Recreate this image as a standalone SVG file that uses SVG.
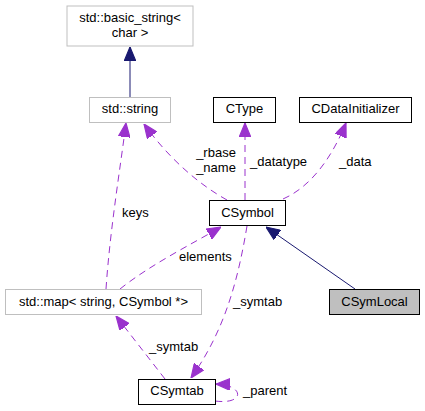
<svg xmlns="http://www.w3.org/2000/svg" width="425" height="411" viewBox="0 0 425 411">
<defs>
<style>
text{font-family:"Liberation Sans",Arial,sans-serif;font-size:13px;fill:#000}
.nt{text-anchor:middle}
.box{fill:#fff;stroke:#000;stroke-width:1}
.gbox{fill:#fff;stroke:#bfbfbf;stroke-width:1}
.dep{fill:none;stroke:#9a32cd;stroke-width:1;stroke-dasharray:7,5;marker-end:url(#pa)}
.inh{fill:none;stroke:#191970;stroke-width:1;marker-end:url(#na)}
</style>
<marker id="pa" markerUnits="userSpaceOnUse" markerWidth="14" markerHeight="12" refX="12" refY="5" orient="auto" viewBox="0 0 12 10"><path d="M0,0 L12,5 L0,10 Z" fill="#9a32cd" stroke="#9a32cd"/></marker>
<marker id="na" markerUnits="userSpaceOnUse" markerWidth="14" markerHeight="12" refX="12" refY="5" orient="auto" viewBox="0 0 12 10"><path d="M0,0 L12,5 L0,10 Z" fill="#191970" stroke="#191970"/></marker>
</defs>
<rect width="425" height="411" fill="#fff"/>
<g id="edges">
<path class="inh" d="M130,97 L130,47"/>
<path class="dep" d="M227,200 C200,185 170,160 144,124"/>
<path class="dep" d="M106,289 C110,230 120,170 126,123"/>
<path class="dep" d="M245,200 L245,123"/>
<path class="dep" d="M283,199 C315,185 335,150 346,123"/>
<path class="dep" d="M120,289 C150,265 190,245 221,227"/>
<path class="inh" d="M355,289 L266,227"/>
<path class="dep" d="M165,379 L116,316"/>
<path class="dep" d="M247,226 C238,280 225,330 191,378"/>
<path class="dep" d="M215,401 C245,405 245,385 216,384"/>
<text x="216" y="157" class="nt">_rbase</text>
<text x="216" y="172" class="nt">_name</text>
<text x="250" y="166">_datatype</text>
<text x="339" y="166">_data</text>
<text x="122" y="217">keys</text>
<text x="179" y="261">elements</text>
<text x="233" y="306">_symtab</text>
<text x="149" y="351">_symtab</text>
<text x="243" y="395">_parent</text>
</g>
<g id="basic_string"><rect class="gbox" x="67" y="6" width="126" height="40"/><text x="130" y="22" class="nt">std::basic_string&lt;</text><text x="130" y="37" class="nt">char &gt;</text></g>
<g id="string"><rect class="gbox" x="89.5" y="97.5" width="81" height="25"/><text x="130" y="113" class="nt">std::string</text></g>
<g id="CType"><rect class="box" x="213.5" y="97.5" width="62" height="25"/><text x="244.5" y="113" class="nt">CType</text></g>
<g id="CDataInitializer"><rect class="box" x="299.5" y="97.5" width="112" height="25"/><text x="355.5" y="113" class="nt">CDataInitializer</text></g>
<g id="CSymbol"><rect class="box" x="209.5" y="200.5" width="76" height="25"/><text x="247.5" y="217" class="nt">CSymbol</text></g>
<g id="CSymLocal"><rect x="329.5" y="289.5" width="90" height="25" fill="#bfbfbf" stroke="#000"/><text x="374.5" y="306" class="nt">CSymLocal</text></g>
<g id="map"><rect class="gbox" x="5.5" y="289.5" width="196" height="25"/><text x="103.5" y="306" class="nt">std::map&lt; string, CSymbol *&gt;</text></g>
<g id="CSymtab"><rect class="box" x="138.5" y="379.5" width="77" height="25"/><text x="177" y="395" class="nt">CSymtab</text></g>
</svg>
